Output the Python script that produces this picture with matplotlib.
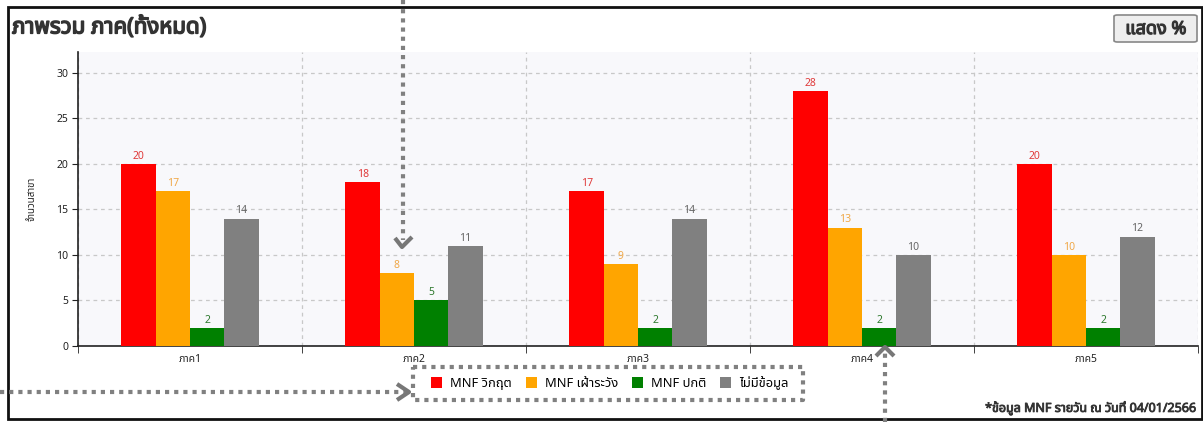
import matplotlib
matplotlib.use("Agg")
import matplotlib.pyplot as plt
import matplotlib.patheffects as pe
import numpy as np
from matplotlib import font_manager as fm
from matplotlib.ft2font import FT2Font
from matplotlib.lines import Line2D
from matplotlib.patches import Rectangle, FancyBboxPatch

categories = ["ภาค1", "ภาค2", "ภาค3", "ภาค4", "ภาค5"]
series_names = ["MNF วิกฤต", "MNF เฝ้าระวัง", "MNF ปกติ", "ไม่มีข้อมูล"]
critical = [20, 18, 17, 28, 20]
watch = [17, 8, 9, 13, 10]
normal = [2, 5, 2, 2, 2]
nodata = [14, 11, 14, 10, 12]
yticks = [0, 5, 10, 15, 20, 25, 30]

bar_colors = ["#ff0000", "#ffa500", "#008000", "#808080"]
label_colors = ["#e03a3a", "#f0a848", "#2f7a2f", "#666666"]


def find_thai_font():
    names = []
    for f in fm.fontManager.ttflist:
        try:
            cm = FT2Font(f.fname).get_charmap()
            if 0x0E20 in cm and 0x0E27 in cm:
                names.append(f.name)
        except Exception:
            pass
    pref = ["Noto Sans Thai", "Tahoma", "Leelawadee", "DejaVu Sans", "Noto Sans", "Loma", "Garuda"]
    for p in pref:
        if p in names:
            return p
    return names[0] if names else None


thai = find_thai_font()
fam = ([thai] if thai else []) + ["DejaVu Sans"]
plt.rcParams["font.family"] = fam

W, H = 1203, 422
fig = plt.figure(figsize=(W / 100, H / 100), dpi=100)


def fx(px):
    return px / W


def fy(py):
    return 1 - py / H


def boldfx(w, c="#333333"):
    return [pe.withStroke(linewidth=w, foreground=c)]


ax = fig.add_axes([fx(78), fy(346), fx(1198) - fx(78), fy(52) - fy(346)])
ax.set_facecolor("#f8f8fb")

series = [critical, watch, normal, nodata]
x = np.arange(len(categories))
bw = 0.153
for i, (vals, c, lc, nm) in enumerate(zip(series, bar_colors, label_colors, series_names)):
    pos = x + (i - 1.5) * bw
    ax.bar(pos, vals, width=bw, color=c, label=nm, zorder=3)
    for p, v in zip(pos, vals):
        ax.text(p, v + 0.25, str(v), ha="center", va="bottom", fontsize=7.5, color=lc, zorder=4)

ax.set_xlim(-0.5, len(categories) - 0.5)
ax.set_ylim(0, 32.3)
ax.set_yticks(yticks)
ax.set_xticks(x)
ax.set_xticklabels(categories)
ax.set_xticks(np.arange(-0.5, len(categories), 1.0), minor=True)
ax.tick_params(axis="x", which="major", length=0, labelsize=7.5, colors="#222222", pad=6)
ax.tick_params(axis="x", which="minor", length=5, color="#222222", direction="out")
ax.tick_params(axis="y", length=4, labelsize=7.5, colors="#222222", pad=3)
ax.grid(axis="y", which="major", color="#c8c8c8", linestyle=(0, (3, 3)), linewidth=0.9, zorder=0)
ax.grid(axis="x", which="minor", color="#c8c8c8", linestyle=(0, (3, 3)), linewidth=0.9, zorder=0)
for s in ["top", "right"]:
    ax.spines[s].set_visible(False)
for s in ["left", "bottom"]:
    ax.spines[s].set_color("#222222")
    ax.spines[s].set_linewidth(1.2)
ax.set_ylabel("จำนวนสาขา", fontsize=7, color="#222222", labelpad=14)

# title, button, footnote
fig.text(fx(12), fy(27), "ภาพรวม ภาค(ทั้งหมด)", fontsize=16, fontweight="bold",
         color="#333333", ha="left", va="center", path_effects=boldfx(1.1))
btn = FancyBboxPatch((fx(1114), fy(42)), fx(1197) - fx(1114), fy(15) - fy(42),
                     boxstyle="round,pad=0,rounding_size=0.003", transform=fig.transFigure,
                     facecolor="#eeeeee", edgecolor="#888888", linewidth=1.2)
fig.add_artist(btn)
fig.text(fx(1156), fy(29), "แสดง %", fontsize=13, fontweight="bold", color="#333333",
         ha="center", va="center", path_effects=boldfx(0.9))
fig.text(fx(1196), fy(408), "*ข้อมูล MNF รายวัน ณ วันที่ 04/01/2566", fontsize=9,
         fontweight="bold", color="#333333", ha="right", va="center", path_effects=boldfx(0.6))

# legend
leg = fig.legend(loc="center", bbox_to_anchor=(fx(610), fy(383)), ncol=4, frameon=False,
                 fontsize=9.3, handlelength=0.85, handleheight=0.85, handletextpad=0.6,
                 columnspacing=1.1)

# outer frame
fig.add_artist(Rectangle((fx(8), fy(419)), fx(1202) - fx(8), fy(7) - fy(419),
                         transform=fig.transFigure, fill=False, edgecolor="#111111", linewidth=2))

# annotation overlays (dotted grey)
dot = dict(color="#808080", linewidth=3, linestyle=(0, (1, 1.2)), transform=fig.transFigure)
fig.add_artist(Line2D([fx(413), fx(803), fx(803), fx(413), fx(413)],
                      [fy(367), fy(367), fy(400), fy(400), fy(367)], **dot))
fig.add_artist(Line2D([fx(403), fx(403)], [fy(0), fy(240)], **dot))
fig.add_artist(Line2D([fx(0), fx(405)], [fy(392), fy(392)], **dot))
fig.add_artist(Line2D([fx(885), fx(885)], [fy(422), fy(352)], **dot))
solid = dict(color="#777777", linewidth=3, solid_capstyle="butt", transform=fig.transFigure)
fig.add_artist(Line2D([fx(395), fx(402), fx(412)], [fy(238), fy(247), fy(237)], **solid))
fig.add_artist(Line2D([fx(397), fx(409), fx(397)], [fy(384), fy(392), fy(400)], **solid))
fig.add_artist(Line2D([fx(876), fx(885), fx(894)], [fy(356), fy(347), fy(356)], **solid))

fig.savefig("out.png", dpi=100)
